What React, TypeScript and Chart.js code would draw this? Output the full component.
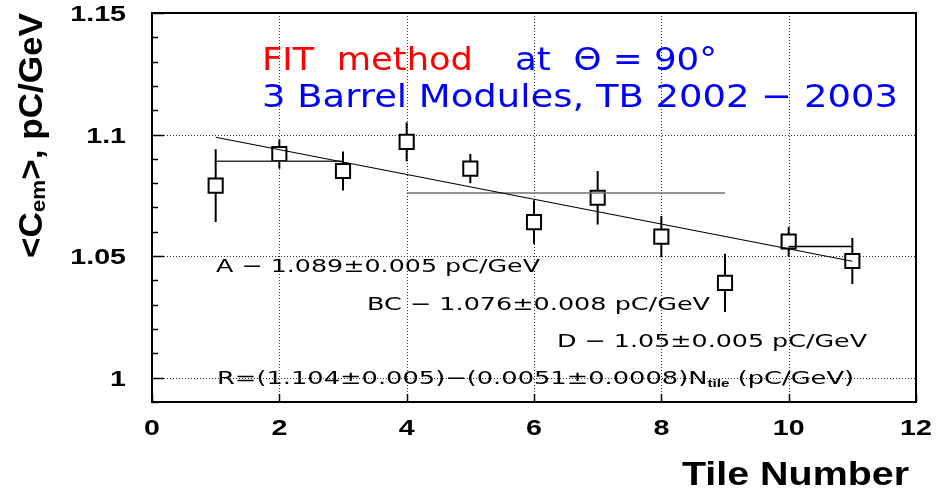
import { useEffect, useRef } from "react";
import { Chart, registerables } from "chart.js";

Chart.register(...registerables);

// Mean electromagnetic calibration constant per tile (pC/GeV)
const tiles = [1, 2, 3, 4, 5, 6, 7, 8, 9, 10, 11];
const cem = [1.079, 1.092, 1.085, 1.097, 1.086, 1.064, 1.074, 1.058, 1.039, 1.056, 1.048];
const cemErr = [0.015, 0.006, 0.008, 0.008, 0.006, 0.009, 0.011, 0.0085, 0.012, 0.006, 0.0095];

// Averages over the tile groups A, BC and D
const groupNames = ["A", "BC", "D"];
const groupFrom = [1, 4, 10];
const groupTo = [3, 9, 11];
const groupMean = [1.089, 1.076, 1.054];
const groupErr = [0.005, 0.008, 0.005];
const groupDigits = [3, 3, 2];
const groupColors = ["#333333", "#707070", "#000000"];

// Linear fit R = a - b * N_tile
const fitIntercept = 1.104;
const fitInterceptErr = 0.005;
const fitSlope = 0.0051;
const fitSlopeErr = 0.0008;
const fitFrom = 1;
const fitTo = 11;

// Axes
const xMin = 0;
const xMax = 12;
const yMin = 0.99;
const yMax = 1.15;
const xTickValues = [0, 2, 4, 6, 8, 10, 12];
const xTickLabels = ["0", "2", "4", "6", "8", "10", "12"];
const yTickValues = [1, 1.05, 1.1, 1.15];
const yTickLabels = ["1", "1.05", "1.1", "1.15"];
const yMinorStep = 0.01;

const titleLine1 = [
  { text: "FIT  method", color: "#ff0000" },
  { text: "at  \u0398 = 90\u00b0", color: "#0000ff" },
];
const titleLine2 = "3 Barrel Modules, TB 2002 \u2212 2003";

const ANNOT_FONT = '"DejaVu Sans", sans-serif';
const AXIS_FONT = '"Liberation Sans", Arial, sans-serif';

type Piece = { text: string; font: string; dy?: number; color?: string };

function drawPieces(
  ctx: CanvasRenderingContext2D,
  pieces: Piece[],
  x: number,
  y: number,
  targetWidth: number,
  color: string
) {
  ctx.save();
  let natural = 0;
  for (const p of pieces) {
    ctx.font = p.font;
    natural += ctx.measureText(p.text).width;
  }
  const sx = targetWidth / natural;
  ctx.translate(x, y);
  ctx.scale(sx, 1);
  ctx.textAlign = "left";
  ctx.textBaseline = "alphabetic";
  let cx = 0;
  for (const p of pieces) {
    ctx.font = p.font;
    ctx.fillStyle = p.color || color;
    ctx.fillText(p.text, cx, p.dy || 0);
    cx += ctx.measureText(p.text).width;
  }
  ctx.restore();
}

function drawStretched(
  ctx: CanvasRenderingContext2D,
  text: string,
  x: number,
  y: number,
  font: string,
  sx: number,
  align: "left" | "center" | "right"
) {
  ctx.save();
  ctx.font = font;
  const w = ctx.measureText(text).width * sx;
  const start = align === "center" ? x - w / 2 : align === "right" ? x - w : x;
  ctx.translate(start, y);
  ctx.scale(sx, 1);
  ctx.textAlign = "left";
  ctx.fillStyle = "#000";
  ctx.fillText(text, 0, 0);
  ctx.restore();
}

function line(ctx: CanvasRenderingContext2D, x1: number, y1: number, x2: number, y2: number) {
  ctx.beginPath();
  ctx.moveTo(x1, y1);
  ctx.lineTo(x2, y2);
  ctx.stroke();
}

const framePlugin = {
  id: "frameAndText",
  beforeDraw(chart: any) {
    const { ctx, width, height } = chart;
    ctx.save();
    ctx.fillStyle = "#ffffff";
    ctx.fillRect(0, 0, width, height);
    ctx.restore();
  },
  beforeDatasetsDraw(chart: any) {
    const { ctx, chartArea: a, scales } = chart;
    const x = scales.x;
    const y = scales.y;
    ctx.save();
    // dotted grid at the major ticks
    ctx.strokeStyle = "#333";
    ctx.lineWidth = 1;
    ctx.setLineDash([1, 2]);
    for (const v of xTickValues) {
      const px = Math.round(x.getPixelForValue(v)) + 0.5;
      if (px <= a.left + 2 || px >= a.right - 2) continue;
      line(ctx, px, a.top, px, a.bottom);
    }
    for (const v of yTickValues) {
      const py = Math.round(y.getPixelForValue(v)) + 0.5;
      if (py <= a.top + 2 || py >= a.bottom - 2) continue;
      line(ctx, a.left, py, a.right, py);
    }
    ctx.setLineDash([]);
    // vertical error bars
    ctx.strokeStyle = "#000";
    ctx.lineWidth = 2;
    tiles.forEach((t, i) => {
      const px = x.getPixelForValue(t);
      line(ctx, px, y.getPixelForValue(cem[i] - cemErr[i]), px, y.getPixelForValue(cem[i] + cemErr[i]));
    });
    ctx.restore();
  },
  afterDatasetsDraw(chart: any) {
    const { ctx, chartArea: a, scales } = chart;
    const x = scales.x;
    const y = scales.y;
    ctx.save();

    // frame
    ctx.strokeStyle = "#000";
    ctx.lineWidth = 2;
    ctx.strokeRect(a.left, a.top, a.right - a.left, a.bottom - a.top);

    // tick marks
    ctx.lineWidth = 1.5;
    for (let v = yMin; v <= yMax + 1e-9; v += yMinorStep) {
      const py = Math.round(y.getPixelForValue(v)) + 0.5;
      const major = yTickValues.some((t) => Math.abs(t - v) < 1e-6);
      line(ctx, a.left, py, a.left + (major ? 12 : 6), py);
    }
    for (const v of xTickValues) {
      const px = Math.round(x.getPixelForValue(v)) + 0.5;
      line(ctx, px, a.bottom, px, a.bottom - 8);
    }

    // tick labels
    const tickFont = `bold 22px ${AXIS_FONT}`;
    xTickValues.forEach((v, i) => {
      drawStretched(ctx, xTickLabels[i], x.getPixelForValue(v), a.bottom + 33, tickFont, 1.3, "center");
    });
    yTickValues.forEach((v, i) => {
      drawStretched(ctx, yTickLabels[i], a.left - 26, y.getPixelForValue(v) + 8, tickFont, 1.3, "right");
    });

    // axis titles
    drawPieces(ctx, [{ text: "Tile Number", font: `bold 33px ${AXIS_FONT}` }], 682, 485, 227, "#000");
    ctx.save();
    ctx.translate(42, 258);
    ctx.rotate(-Math.PI / 2);
    drawPieces(
      ctx,
      [
        { text: "<C", font: `bold 33px ${AXIS_FONT}` },
        { text: "em", font: `bold 21px ${AXIS_FONT}`, dy: 3 },
        { text: ">, pC/GeV", font: `bold 33px ${AXIS_FONT}` },
      ],
      0,
      0,
      245,
      "#000"
    );
    ctx.restore();

    // heading
    const big = `32px ${ANNOT_FONT}`;
    drawPieces(ctx, [{ text: titleLine1[0].text, font: big }], 262, 70, 211, titleLine1[0].color);
    drawPieces(ctx, [{ text: titleLine1[1].text, font: big }], 515, 70, 202, titleLine1[1].color);
    drawPieces(ctx, [{ text: titleLine2, font: big }], 262, 107, 636, "#0000ff");

    // group averages and fit result
    const small = `18.5px ${ANNOT_FONT}`;
    const groupX = [216, 367, 557];
    const groupY = [272, 309.5, 347];
    const groupW = [324, 343, 310];
    groupNames.forEach((n, i) => {
      const txt = `${n} \u2212 ${groupMean[i].toFixed(groupDigits[i])}\u00b1${groupErr[i].toFixed(3)} pC/GeV`;
      drawPieces(ctx, [{ text: txt, font: small }], groupX[i], groupY[i], groupW[i], "#000");
    });
    const fitText = `R=(${fitIntercept.toFixed(3)}\u00b1${fitInterceptErr.toFixed(3)})\u2212(${fitSlope.toFixed(4)}\u00b1${fitSlopeErr.toFixed(4)})N`;
    drawPieces(
      ctx,
      [
        { text: fitText, font: small },
        { text: "tile", font: `bold 11px ${AXIS_FONT}`, dy: 3 },
        { text: " (pC/GeV)", font: small },
      ],
      217,
      383.5,
      637,
      "#000"
    );

    ctx.restore();
  },
};

export default function App() {
  const canvasRef = useRef<HTMLCanvasElement | null>(null);

  useEffect(() => {
    if (!canvasRef.current) return;
    const lineDs = (data: { x: number; y: number }[], color: string, width: number) => ({
      type: "scatter" as const,
      data,
      showLine: true,
      borderColor: color,
      borderWidth: width,
      pointRadius: 0,
      fill: false,
      order: 1,
    });

    const datasets: any[] = [
      {
        label: "tiles",
        data: tiles.map((t, i) => ({ x: t, y: cem[i] })),
        pointStyle: "rect",
        pointRadius: 10,
        backgroundColor: "#ffffff",
        borderColor: "#000000",
        borderWidth: 2,
        order: 2,
      },
      lineDs(
        [
          { x: fitFrom, y: fitIntercept - fitSlope * fitFrom },
          { x: fitTo, y: fitIntercept - fitSlope * fitTo },
        ],
        "#000000",
        1.2
      ),
      ...groupNames.map((_, i) =>
        lineDs(
          [
            { x: groupFrom[i], y: groupMean[i] },
            { x: groupTo[i], y: groupMean[i] },
          ],
          groupColors[i],
          1.5
        )
      ),
    ];

    const chart = new Chart(canvasRef.current, {
      type: "scatter",
      data: { datasets },
      options: {
        responsive: false,
        animation: false,
        events: [],
        layout: { padding: { top: 13, right: 20, left: 0, bottom: 0 } },
        plugins: { legend: { display: false }, tooltip: { enabled: false } },
        scales: {
          x: {
            type: "linear",
            min: xMin,
            max: xMax,
            ticks: { display: false },
            grid: { display: false },
            border: { display: false },
            afterFit: (s: any) => {
              s.height = 93;
            },
          },
          y: {
            type: "linear",
            min: yMin,
            max: yMax,
            ticks: { display: false },
            grid: { display: false },
            border: { display: false },
            afterFit: (s: any) => {
              s.width = 152;
            },
          },
        },
      },
      plugins: [framePlugin],
    });
    return () => chart.destroy();
  }, []);

  return (
    <div style={{ position: "fixed", left: 0, top: 0, width: 936, height: 495, background: "#fff" }}>
      <canvas ref={canvasRef} width={936} height={495} style={{ display: "block" }} />
    </div>
  );
}
